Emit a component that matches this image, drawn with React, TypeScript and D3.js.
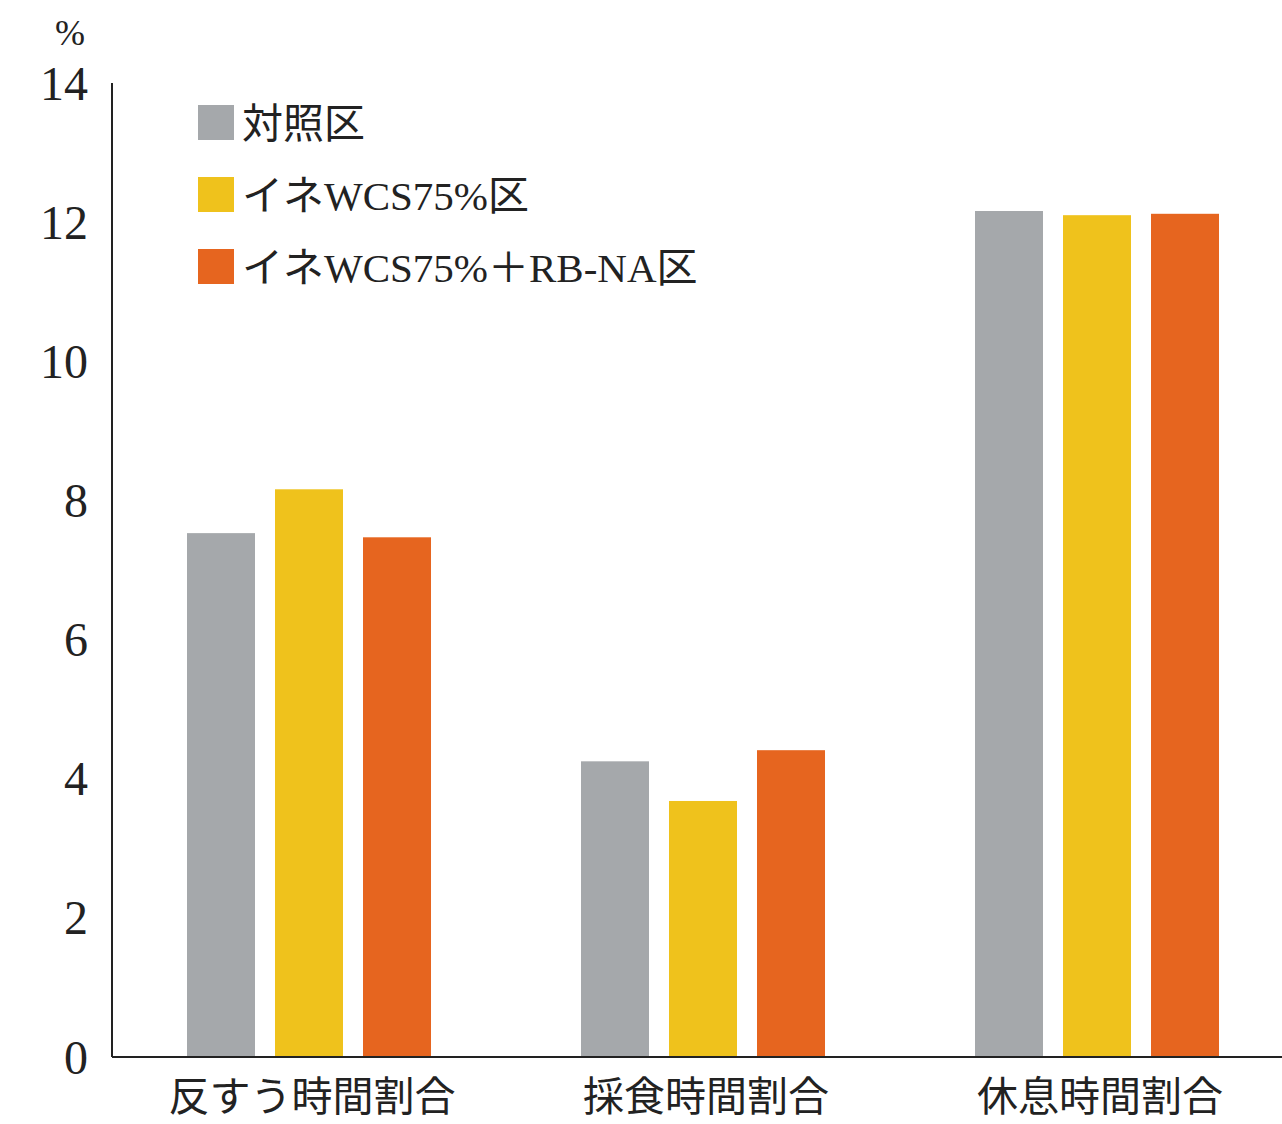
import React from "react";
import * as d3 from "d3";

// Categories (x axis), series (legend) and values in %
const categories = ["反すう時間割合", "採食時間割合", "休息時間割合"];
const seriesNames = ["対照区", "イネWCS75%区", "イネWCS75%＋RB-NA区"];
const controlValues = [7.53, 4.25, 12.16];
const wcsValues = [8.16, 3.68, 12.1];
const wcsRbnaValues = [7.47, 4.41, 12.12];
const yTicks = [0, 2, 4, 6, 8, 10, 12, 14];

const seriesValues = [controlValues, wcsValues, wcsRbnaValues];
const colors = ["#a5a8ab", "#efc21c", "#e6651f"];

const W = 1282;
const H = 1124;
const margin = { left: 112, top: 83, bottom: 1057, right: 1294 };

const serif = "'Liberation Serif', 'DejaVu Serif', serif";
const jp = "'Noto Sans CJK JP', 'Noto Sans', sans-serif";

export default function App() {
  const y = d3.scaleLinear().domain([0, 14]).range([margin.bottom, margin.top]);
  const x0 = d3
    .scaleBand<string>()
    .domain(categories)
    .range([margin.left, margin.right])
    .paddingInner(0)
    .paddingOuter(0);
  const x1 = d3
    .scaleBand<string>()
    .domain(seriesNames)
    .range([-132, 132])
    .paddingInner(0.2273)
    .paddingOuter(0.1136);

  return (
    <svg
      width={W}
      height={H}
      style={{ position: "absolute", left: 0, top: 0, background: "#fff" }}
    >
      {/* bars */}
      {categories.map((c, ci) => {
        const cx = (x0(c) as number) + x0.bandwidth() / 2;
        return (
          <g key={c}>
            {seriesNames.map((s, si) => {
              const v = seriesValues[si][ci];
              return (
                <rect
                  key={s}
                  x={cx + (x1(s) as number)}
                  y={y(v)}
                  width={x1.bandwidth()}
                  height={y(0) - y(v)}
                  fill={colors[si]}
                />
              );
            })}
            <text
              x={cx + 3}
              y={1093}
              textAnchor="middle"
              dominantBaseline="central"
              fontFamily={jp}
              fontSize={41}
              fill="#222"
            >
              {c}
            </text>
          </g>
        );
      })}

      {/* axes */}
      <line x1={margin.left} x2={W} y1={y(0)} y2={y(0)} stroke="#222" strokeWidth={2} />
      <line
        x1={margin.left}
        x2={margin.left}
        y1={y(14)}
        y2={y(0)}
        stroke="#222"
        strokeWidth={2}
      />

      {/* y tick labels */}
      {yTicks.map((t) => (
        <text
          key={t}
          x={88}
          y={y(t)}
          textAnchor="end"
          dominantBaseline="central"
          fontFamily={serif}
          fontSize={48}
          fill="#222"
        >
          {t}
        </text>
      ))}
      <text
        x={70}
        y={33}
        textAnchor="middle"
        dominantBaseline="central"
        fontFamily={serif}
        fontSize={36}
        fill="#222"
      >
        %
      </text>

      {/* legend */}
      {seriesNames.map((s, i) => {
        const cy = 122 + i * 72;
        return (
          <g key={s}>
            <rect x={198} y={cy - 17} width={36} height={35} fill={colors[i]} />
            <text
              x={242}
              y={cy + 2}
              dominantBaseline="central"
              fontFamily={`${serif.split(",")[0]}, ${jp}`}
              fontSize={41}
              fill="#222"
            >
              {s}
            </text>
          </g>
        );
      })}
    </svg>
  );
}
